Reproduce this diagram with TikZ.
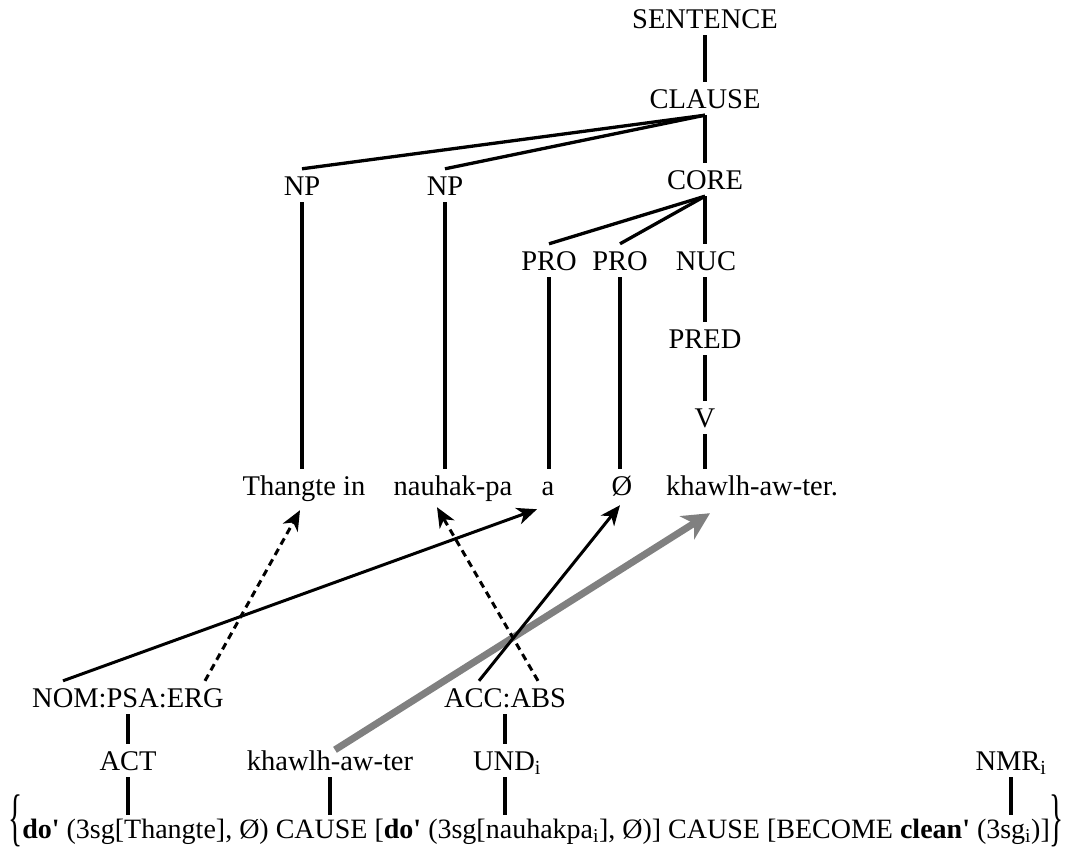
\documentclass[tikz,border=0pt]{standalone}
\usepackage{graphicx}
\usepackage{fontspec}
\setmainfont{Liberation Serif}
\usetikzlibrary{arrows.meta}

\begin{document}
\begin{tikzpicture}[x=1pt,y=-1pt]
	\tikzstyle{every node}+=[inner xsep=0pt, inner ysep=7pt, text height=19pt, text depth=0pt, anchor=base, font=\fontsize{28.5}{34}\selectfont]
	\tikzstyle{branch}=[line width=3.3pt]
	\tikzstyle{link}=[line width=3pt, -{Stealth[length=20pt,width=17pt,inset=6pt]}]
	\tikzstyle{dotlink}=[link, dash pattern=on 7pt off 5pt]
	\tikzstyle{greylink}=[line width=7pt, draw={rgb,255:red,128;green,128;blue,128}, -{Stealth[length=27pt,width=27pt,inset=8pt]}]
	\newcommand{\bigbrace}[1]{\raisebox{0pt}{\scalebox{1.05}[2.25]{#1}}}
	\useasboundingbox (0,0) rectangle (1080,852);
	% clause tree
	\node (sentence) at (705,28) {SENTENCE};
	\node (clause) at (705,108) {CLAUSE};
	\node (np1) at (302,195) {NP};
	\node (np2) at (445,195) {NP};
	\node (core) at (705,189) {CORE};
	\node (pro1) at (549,270) {PRO};
	\node (pro2) at (620,270) {PRO};
	\node (nuc) at (706,270) {NUC};
	\node (pred) at (705,348) {PRED};
	\node (v) at (705,427) {V};
	% the sentence
	\node (thangte) at (304,495) {Thangte in};
	\node (nauhak) at (453,495) {nauhak-pa};
	\node (a) at (548,495) {a};
	\node (zero) at (622,495) {Ø};
	\node (khaw) at (752,495) {khawlh-aw-ter.};
	% linking side
	\node (nom) at (128,707) {NOM:PSA:ERG};
	\node (acc) at (505,707) {ACC:ABS};
	\node (act) at (128,770) {ACT};
	\node (khawlow) at (330,770) {khawlh-aw-ter};
	\node (und) at (507,770) {UND\textsubscript{i}};
	\node (nmr) at (1011,770) {NMR\textsubscript{i}};
	\node[anchor=base west, inner ysep=4pt, font=\fontsize{28}{34}\selectfont] (lsr) at (8,838) {\bigbrace{\{}\textbf{do\textquotesingle} (3sg[Thangte], Ø) CAUSE [\textbf{do\textquotesingle} (3sg[nauhakpa\textsubscript{i}], Ø)] CAUSE [BECOME \textbf{clean\textquotesingle} (3sg\textsubscript{i})]\bigbrace{\}}};

	\draw [branch] (sentence.south) -- (clause.north);
	\draw [branch] (clause.south) -- (np1.north);
	\draw [branch] (clause.south) -- (np2.north);
	\draw [branch] (clause.south) -- (core.north);
	\draw [branch] (core.south) -- (pro1.north);
	\draw [branch] (core.south) -- (pro2.north);
	\draw [branch] (core.south) -- (core.south |- nuc.north);
	\draw [branch] (core.south |- nuc.south) -- (pred.north);
	\draw [branch] (pred.south) -- (v.north);
	\draw [branch] (np1.south) -- (np1.south |- thangte.north);
	\draw [branch] (np2.south) -- (np2.south |- nauhak.north);
	\draw [branch] (pro1.south) -- (pro1.south |- a.north);
	\draw [branch] (pro2.south) -- (pro2.south |- zero.north);
	\draw [branch] (v.south) -- (v.south |- khaw.north);

	\draw [branch] (nom.south) -- (act.north);
	\draw [branch] (acc.south) -- (acc.south |- und.north);
	\draw [branch] (act.south) -- (act.south |- lsr.north);
	\draw [branch] (khawlow.south) -- (khawlow.south |- lsr.north);
	\draw [branch] (acc.south |- und.south) -- (acc.south |- lsr.north);
	\draw [branch] (nmr.south) -- (nmr.south |- lsr.north);

	\draw [greylink] ([xshift=5pt,yshift=-6pt]khawlow.north) -- ([xshift=-42pt,yshift=-11pt]khaw.south);
	\draw [link] ([xshift=-65pt]nom.north) -- ([xshift=-11pt,yshift=-7pt]a.south);
	\draw [dotlink] ([xshift=77pt]nom.north) -- ([xshift=-4pt,yshift=-8pt]thangte.south);
	\draw [dotlink] ([xshift=33pt]acc.north) -- ([xshift=-16pt,yshift=-5pt]nauhak.south);
	\draw [link] ([xshift=-26pt]acc.north) -- ([xshift=-2pt,yshift=-3pt]zero.south);
\end{tikzpicture}
\end{document}
